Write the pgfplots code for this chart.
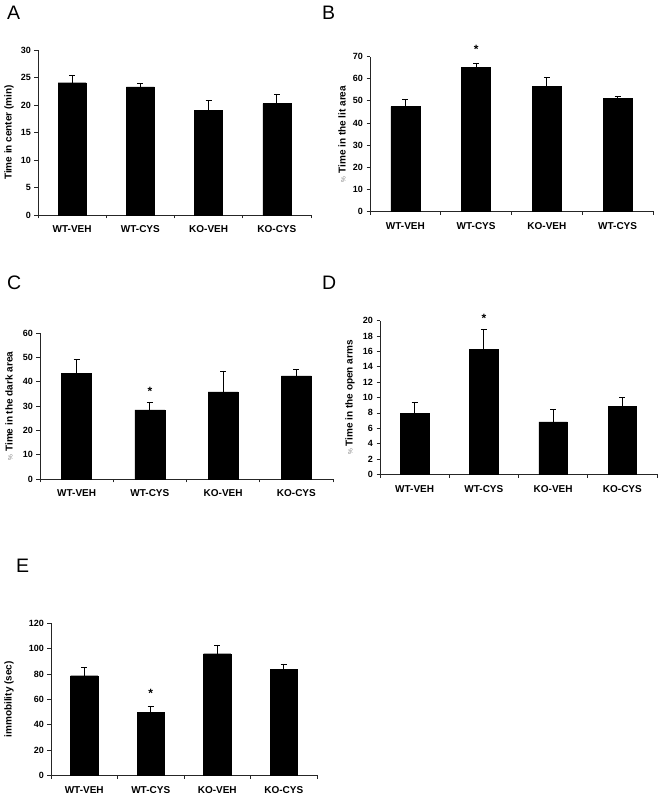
\documentclass[border=0pt]{standalone}
\usepackage{fontspec}
\setmainfont{Liberation Sans}
\usepackage{pgfplots}
\usepackage{pgfplotstable}
\pgfplotsset{compat=1.18}

\pgfplotstableread{
x y e
0 24.05 1.25
1 23.3 0.6
2 19.0 1.85
3 20.25 1.75
}\dataA
\pgfplotstableread{
x y e
0 47.4 3.0
1 65.0 2.0
2 56.6 4.1
3 51.0 0.8
}\dataB
\pgfplotstableread{
x y e
0 43.3 5.8
1 28.4 2.9
2 35.8 8.6
3 42.4 2.6
}\dataC
\pgfplotstableread{
x y e
0 7.98 1.43
1 16.27 2.6
2 6.81 1.65
3 8.85 1.17
}\dataD
\pgfplotstableread{
x y e
0 78.6 6.7
1 49.7 4.8
2 96.0 6.9
3 83.4 4.5
}\dataE

\pgfplotsset{
 panel/.style={
  scale only axis, anchor=south west,
  xmin=-0.5, xmax=3.5, ymin=0,
  axis x line*=bottom, axis y line*=left,
  axis line style={line width=0.7bp, black!85},
  xtick={0,1,2,3}, major x tick style={draw=none},
  minor xtick={-0.5,0.5,1.5,2.5,3.5},
  tick align=outside,
  major tick length=3.5bp, minor tick length=3.5bp,
  tick style={black!85, line width=0.7bp},
  /pgf/number format/assume math mode=true,
  yticklabel style={font=\bfseries\fontsize{9bp}{10bp}\selectfont},
  xticklabel style={font=\bfseries\fontsize{10bp}{11bp}\selectfont, yshift=-4bp},
  ylabel style={font=\bfseries\fontsize{10bp}{11bp}\selectfont, anchor=center},
  bar width=0.41, clip=false,
 },
 bars/.style={ybar, fill=black, draw=black,
  error bars/.cd, y dir=plus, y explicit,
  error bar style={line width=0.8bp, black},
  error mark options={line width=0.8bp, mark size=3bp, rotate=90}},
}
\newcommand{\pct}{{\mdseries\fontsize{6.5bp}{8bp}\selectfont\color{gray}\%}\ }

\begin{document}
\begin{tikzpicture}
\useasboundingbox (0,0) rectangle (661bp,799bp);
\node[anchor=base west, inner sep=0, font=\fontsize{19.5bp}{20bp}\selectfont] at (7bp,779bp) {A};
\node[anchor=base west, inner sep=0, font=\fontsize{19.5bp}{20bp}\selectfont] at (322bp,779bp) {B};
\node[anchor=base west, inner sep=0, font=\fontsize{19.5bp}{20bp}\selectfont] at (7bp,509bp) {C};
\node[anchor=base west, inner sep=0, font=\fontsize{19.5bp}{20bp}\selectfont] at (322bp,509bp) {D};
\node[anchor=base west, inner sep=0, font=\fontsize{19.5bp}{20bp}\selectfont] at (16bp,226bp) {E};

% A
\begin{axis}[panel, at={(38bp,584bp)}, width=273bp, height=165bp,
  ymax=30, ytick={0,5,...,30},
  xticklabels={WT-VEH,WT-CYS,KO-VEH,KO-CYS},
  ylabel={Time in center (min)},
  ylabel style={at={(axis description cs:-0.106,0.5)}}]
\addplot[bars] table[x=x,y=y,y error=e]{\dataA};
\end{axis}

% B
\begin{axis}[panel, at={(370bp,587.5bp)}, width=283bp, height=155bp,
  ymax=70, ytick={0,10,...,70},
  xticklabels={WT-VEH,WT-CYS,KO-VEH,WT-CYS},
  ylabel={\pct Time in the lit area},
  ylabel style={at={(axis description cs:-0.099,0.5)}}]
\addplot[bars] table[x=x,y=y,y error=e]{\dataB};
\node[font=\bfseries\fontsize{12bp}{12bp}\selectfont] at (axis cs:1,73.3) {*};
\end{axis}

% C
\begin{axis}[panel, at={(40bp,320bp)}, width=293bp, height=146bp,
  ymax=60, ytick={0,10,...,60},
  xticklabels={WT-VEH,WT-CYS,KO-VEH,KO-CYS},
  ylabel={\pct Time in the dark area},
  ylabel style={at={(axis description cs:-0.106,0.5)}}]
\addplot[bars] table[x=x,y=y,y error=e]{\dataC};
\node[font=\bfseries\fontsize{12bp}{12bp}\selectfont] at (axis cs:1,36) {*};
\end{axis}

% D
\begin{axis}[panel, at={(380bp,324.7bp)}, width=277bp, height=153.6bp,
  ymax=20, ytick={0,2,...,20},
  xticklabels={WT-VEH,WT-CYS,KO-VEH,KO-CYS},
  ylabel={\pct Time in the open arms},
  ylabel style={at={(axis description cs:-0.108,0.5)}}]
\addplot[bars] table[x=x,y=y,y error=e]{\dataD};
\node[font=\bfseries\fontsize{12bp}{12bp}\selectfont] at (axis cs:1,20.3) {*};
\end{axis}

% E
\begin{axis}[panel, at={(51bp,23.7bp)}, width=266bp, height=152bp,
  ymax=120, ytick={0,20,...,120},
  xticklabels={WT-VEH,WT-CYS,KO-VEH,KO-CYS},
  ylabel={immobility (sec)},
  ylabel style={at={(axis description cs:-0.158,0.5)}}]
\addplot[bars] table[x=x,y=y,y error=e]{\dataE};
\node[font=\bfseries\fontsize{12bp}{12bp}\selectfont] at (axis cs:1,65) {*};
\end{axis}
\end{tikzpicture}
\end{document}
